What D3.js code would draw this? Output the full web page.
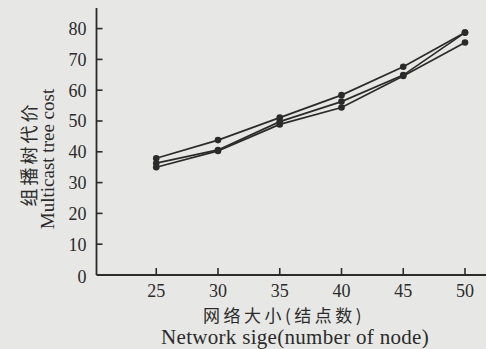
<!DOCTYPE html>
<html><head><meta charset="utf-8">
<script src="https://cdn.jsdelivr.net/npm/d3@7"></script>
<style>
body{margin:0;background:#e7e7e5;}
svg{display:block;}
</style></head>
<body>
<script>
const nodes = [25, 30, 35, 40, 45, 50];
const seriesA = [37.9, 43.8, 51.1, 58.4, 67.6, 78.7];
const seriesB = [36.3, 40.6, 49.8, 56.3, 64.9, 78.7];
const seriesC = [35.0, 40.3, 48.9, 54.4, 64.6, 75.5];
const yTicks = [0, 10, 20, 30, 40, 50, 60, 70, 80];
const xTicks = [25, 30, 35, 40, 45, 50];
const yTitleCN = "组播树代价";
const yTitleEN = "Multicast tree cost";
const xTitleCN = "网络大小(结点数)";
const xTitleEN = "Network sige(number of node)";

const W = 486, H = 349;
const svg = d3.select("body").append("svg").attr("width", W).attr("height", H);
const ink = "#2b2b2b";
const x = d3.scaleLinear().domain([20, 50]).range([94.5, 465]);
const y = d3.scaleLinear().domain([0, 80]).range([275, 28.6]);
const x0 = 96.5;

// axes lines
svg.append("line").attr("x1", x0).attr("x2", x0).attr("y1", 8).attr("y2", y(0))
  .attr("stroke", ink).attr("stroke-width", 1.8);
svg.append("line").attr("x1", x0).attr("x2", W).attr("y1", y(0)).attr("y2", y(0))
  .attr("stroke", ink).attr("stroke-width", 1.8);

const serif = "'Liberation Serif','DejaVu Serif',serif";
// y ticks
const yAxis = svg.append("g").attr("transform", `translate(${x0},0)`);
yTicks.forEach(t => {
  if (t > 0) yAxis.append("line").attr("x1", 0).attr("x2", 6).attr("y1", y(t)).attr("y2", y(t))
    .attr("stroke", ink).attr("stroke-width", 1.6);
  yAxis.append("text").attr("x", -10).attr("y", y(t) + (t === 0 ? 2 : 0)).attr("dy", "0.35em")
    .attr("text-anchor", "end").attr("font-family", serif).attr("font-size", 18)
    .attr("fill", ink).text(t);
});
// x ticks
const xAxis = svg.append("g");
xTicks.forEach(t => {
  xAxis.append("line").attr("x1", x(t)).attr("x2", x(t)).attr("y1", y(0)).attr("y2", y(0) - 7)
    .attr("stroke", ink).attr("stroke-width", 1.6);
  xAxis.append("text").attr("x", x(t)).attr("y", 291).attr("dy", "0.35em")
    .attr("text-anchor", "middle").attr("font-family", serif).attr("font-size", 18)
    .attr("fill", ink).text(t);
});

// series
const line = d3.line().x((d, i) => x(nodes[i])).y(d => y(d));
[seriesA, seriesB, seriesC].forEach(s => {
  svg.append("path").datum(s).attr("d", line).attr("fill", "none")
    .attr("stroke", ink).attr("stroke-width", 1.7);
  svg.append("g").selectAll("circle").data(s).join("circle")
    .attr("cx", (d, i) => x(nodes[i])).attr("cy", d => y(d)).attr("r", 3.3).attr("fill", ink);
});

// titles
svg.append("text").attr("transform", "translate(30,154) rotate(-90)")
  .attr("text-anchor", "middle").attr("dy", "0.35em")
  .attr("font-family", "'Noto Sans CJK SC',sans-serif").attr("font-size", 18)
  .attr("letter-spacing", 3).attr("fill", ink).text(yTitleCN);
svg.append("text").attr("transform", "translate(47,159) rotate(-90)")
  .attr("text-anchor", "middle").attr("dy", "0.35em")
  .attr("font-family", serif).attr("font-size", 19)
  .attr("fill", ink).text(yTitleEN);
svg.append("text").attr("x", 284).attr("y", 316).attr("dy", "0.35em")
  .attr("text-anchor", "middle")
  .attr("font-family", "'Noto Sans CJK SC',sans-serif").attr("font-size", 17)
  .attr("letter-spacing", 3.5).attr("fill", ink).text(xTitleCN);
svg.append("text").attr("x", 295).attr("y", 337).attr("dy", "0.32em")
  .attr("text-anchor", "middle").attr("font-family", serif).attr("font-size", 21)
  .attr("letter-spacing", 0.3).attr("fill", ink).text(xTitleEN);
</script>
</body></html>
